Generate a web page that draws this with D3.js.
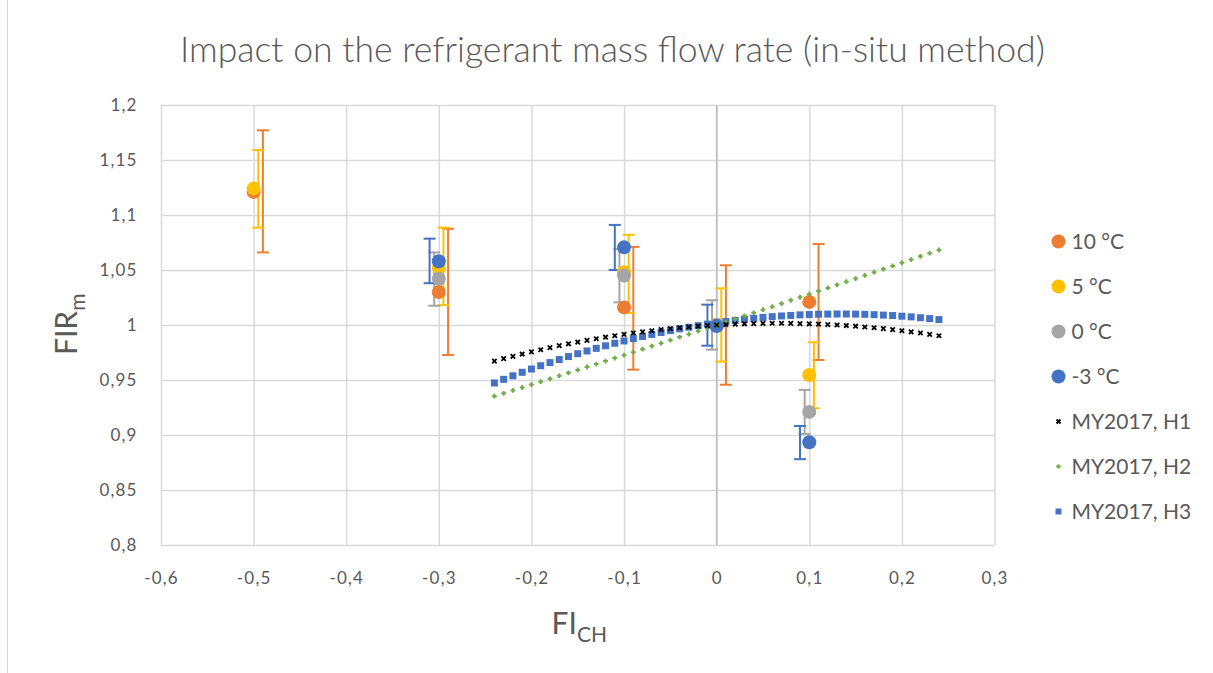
<!DOCTYPE html>
<html><head><meta charset="utf-8">
<script src="https://cdn.jsdelivr.net/npm/d3@7"></script>
<style>
html,body{margin:0;padding:0;background:#fff;}
svg{display:block;font-family:Lato,"Open Sans",sans-serif;}
</style></head>
<body>
<svg id="chart" width="1213" height="673"></svg>
<script>
// ---------- DATA ----------
const titleText = "Impact on the refrigerant mass flow rate (in-situ method)";
const xTicks = [-0.6,-0.5,-0.4,-0.3,-0.2,-0.1,0,0.1,0.2,0.3];
const yTicks = [0.8,0.85,0.9,0.95,1,1.05,1.1,1.15,1.2];
const xCat = [-0.5,-0.3,-0.1,0,0.1];

const seriesNames = ["10 °C","5 °C","0 °C","-3 °C"];
const t10  = [1.121, 1.030, 1.016, 1.000, 1.021];
const t5   = [1.124, 1.052, 1.048, 1.000, 0.9545];
const t0   = [null,  1.042, 1.045, 1.000, 0.921];
const tm3  = [null,  1.058, 1.0706, 0.999, 0.8934];

const t10Lo = [1.066, 0.9727, 0.9594, 0.9457, 0.9682];
const t10Hi = [1.177, 1.0875, 1.071, 1.0543, 1.0736];
const t5Lo  = [1.0885, 1.018, 1.011, 0.9667, 0.9243];
const t5Hi  = [1.159, 1.0885, 1.082, 1.0333, 0.9843];
const t0Lo  = [null, 1.0175, 1.0206, 0.9776, 0.901];
const t0Hi  = [null, 1.066, 1.069, 1.0225, 0.941];
const tm3Lo = [null, 1.038, 1.050, 0.9812, 0.878];
const tm3Hi = [null, 1.0785, 1.091, 1.0185, 0.9082];
// x of each series' error bar relative to its category
const errShift = [0.01, 0.005, -0.005, -0.01];

const curveX = [-0.24,-0.23,-0.22,-0.21,-0.2,-0.19,-0.18,-0.17,-0.16,-0.15,-0.14,-0.13,-0.12,-0.11,-0.1,-0.09,-0.08,-0.07,-0.06,-0.05,-0.04,-0.03,-0.02,-0.01,0,
  0.01,0.02,0.03,0.04,0.05,0.06,0.07,0.08,0.09,0.1,0.11,0.12,0.13,0.14,0.15,0.16,0.17,0.18,0.19,0.2,0.21,0.22,0.23,0.24];
const h1 = [0.9672,0.9694,0.9715,0.9736,0.9756,0.9775,0.9794,0.9812,0.9829,0.9845,0.9860,0.9875,0.9889,0.9902,0.9915,0.9927,0.9938,0.9948,0.9958,0.9967,0.9975,0.9982,0.9989,0.9995,1.0000,
  1.0004,1.0008,1.0011,1.0013,1.0015,1.0016,1.0016,1.0015,1.0013,1.0011,1.0008,1.0004,1.0000,0.9995,0.9989,0.9982,0.9975,0.9967,0.9958,0.9948,0.9938,0.9927,0.9915,0.9902];
const h2 = [0.9353,0.9379,0.9405,0.9432,0.9458,0.9485,0.9511,0.9538,0.9565,0.9591,0.9618,0.9645,0.9672,0.9699,0.9726,0.9753,0.9780,0.9808,0.9835,0.9862,0.9890,0.9917,0.9945,0.9972,1.0000,
  1.0028,1.0056,1.0083,1.0111,1.0139,1.0167,1.0195,1.0224,1.0252,1.0280,1.0308,1.0337,1.0365,1.0394,1.0422,1.0451,1.0480,1.0508,1.0537,1.0566,1.0595,1.0624,1.0653,1.0682];
const h3 = [0.9473,0.9506,0.9538,0.9570,0.9600,0.9630,0.9658,0.9686,0.9713,0.9739,0.9764,0.9788,0.9811,0.9834,0.9855,0.9876,0.9895,0.9914,0.9932,0.9949,0.9965,0.9980,0.9994,1.0008,1.0020,
  1.0032,1.0042,1.0052,1.0061,1.0069,1.0076,1.0082,1.0087,1.0092,1.0095,1.0098,1.0099,1.0100,1.0100,1.0099,1.0097,1.0094,1.0090,1.0086,1.0080,1.0074,1.0066,1.0058,1.0049];
const curveNames = ["MY2017, H1","MY2017, H2","MY2017, H3"];

// ---------- STYLE ----------
const colors = ["#ED7D31","#FFC000","#A5A5A5","#4472C4"];
const curveColors = ["#000000","#70AD47","#4472C4"];
const textCol = "#595959";

const svg = d3.select("#chart");
const x = d3.scaleLinear().domain([-0.6,0.3]).range([161,994.5]);
const y = d3.scaleLinear().domain([0.8,1.2]).range([545,105]);
const fmt = v => String(+v.toFixed(2)).replace(".", ",");

// outer border (left edge visible)
svg.append("line").attr("x1",7.5).attr("x2",7.5).attr("y1",0).attr("y2",673)
  .attr("stroke","#D9D9D9").attr("stroke-width",1.2);

// gridlines via axes
const gx = svg.append("g").attr("transform","translate(0,545)")
  .call(d3.axisBottom(x).tickValues(xTicks).tickSize(-440).tickFormat(""));
gx.select(".domain").remove();
gx.selectAll("line").attr("stroke","#D9D9D9").attr("stroke-width",1.5);
const gy = svg.append("g").attr("transform","translate(161,0)")
  .call(d3.axisLeft(y).tickValues(yTicks).tickSize(-833.5).tickFormat(""));
gy.select(".domain").remove();
gy.selectAll("line").attr("stroke","#D9D9D9").attr("stroke-width",1.5);

// vertical value axis line at x = 0
svg.append("line").attr("x1",x(0)).attr("x2",x(0)).attr("y1",y(1.2)).attr("y2",y(0.8))
  .attr("stroke","#BFBFBF").attr("stroke-width",1.5);

// tick labels
svg.append("g").selectAll("text").data(xTicks).join("text")
  .attr("x",d=>x(d)+0.6).attr("y",584).attr("text-anchor","middle")
  .attr("font-size",17).attr("letter-spacing","1.2px").attr("fill",textCol).text(fmt);
svg.append("g").selectAll("text").data(yTicks).join("text")
  .attr("x",137.7).attr("y",d=>y(d)).attr("dy","0.36em").attr("text-anchor","end")
  .attr("font-size",17).attr("letter-spacing","1.2px").attr("fill",textCol).text(fmt);

// title, fitted to its width in the reference
const title = svg.append("text").attr("x",612.5).attr("y",62).attr("text-anchor","middle")
  .attr("font-size",32).attr("font-weight",300).attr("fill",textCol).text(titleText);
const tw = title.node().getComputedTextLength();
title.attr("font-size", 32*865/tw);

// axis titles
const xt = svg.append("text").attr("x",551.5).attr("y",634).attr("font-size",30).attr("fill",textCol);
xt.append("tspan").text("FI");
xt.append("tspan").attr("dy",8).attr("font-size",21).text("CH");
const yt = svg.append("text").attr("transform","translate(76.5,355) rotate(-90)").attr("font-size",30).attr("fill",textCol);
yt.append("tspan").text("FIR");
yt.append("tspan").attr("dy",8).attr("font-size",21).text("m");

// scatter series
const vals = [t10,t5,t0,tm3], los = [t10Lo,t5Lo,t0Lo,tm3Lo], his = [t10Hi,t5Hi,t0Hi,tm3Hi];
const errG = svg.append("g");
vals.forEach((s,i)=>{
  const d = xCat.map((c,j)=>({c, lo:los[i][j], hi:his[i][j]})).filter(e=>e.lo!=null);
  const g = errG.append("g").attr("stroke",colors[i]).attr("stroke-width",2);
  d.forEach(e=>{
    const xx = x(e.c+errShift[i]);
    g.append("line").attr("x1",xx).attr("x2",xx).attr("y1",y(e.lo)).attr("y2",y(e.hi));
    g.append("line").attr("x1",xx-6).attr("x2",xx+6).attr("y1",y(e.lo)).attr("y2",y(e.lo));
    g.append("line").attr("x1",xx-6).attr("x2",xx+6).attr("y1",y(e.hi)).attr("y2",y(e.hi));
  });
});
vals.forEach((s,i)=>{
  const d = xCat.map((c,j)=>({c, v:s[j]})).filter(e=>e.v!=null);
  svg.append("g").selectAll("circle").data(d).join("circle")
    .attr("cx",e=>x(e.c)).attr("cy",e=>y(e.v)).attr("r",7).attr("fill",colors[i]);
});

// curves
const sq = d3.symbol().type(d3.symbolSquare).size(49);
const cH3 = curveX.map((c,j)=>({c,v:h3[j]}));
svg.append("g").selectAll("path").data(cH3).join("path")
  .attr("d",sq).attr("transform",e=>`translate(${x(e.c)},${y(e.v)})`).attr("fill",curveColors[2]);
const cH2 = curveX.map((c,j)=>({c,v:h2[j]}));
svg.append("g").attr("stroke",curveColors[1]).attr("stroke-width",2).selectAll("path").data(cH2).join("path")
  .attr("d",e=>{const X=x(e.c),Y=y(e.v),s=2.4;return `M${X-s},${Y}H${X+s}M${X},${Y-s}V${Y+s}`;});
const cH1 = curveX.map((c,j)=>({c,v:h1[j]}));
svg.append("g").attr("stroke",curveColors[0]).attr("stroke-width",1.8).selectAll("path").data(cH1).join("path")
  .attr("d",e=>{const X=x(e.c),Y=y(e.v),s=2.2;return `M${X-s},${Y-s}L${X+s},${Y+s}M${X-s},${Y+s}L${X+s},${Y-s}`;});

// legend
const legY = [241.5,286.5,331.5,376.5,421.5,466.5,511.5];
const leg = svg.append("g");
seriesNames.forEach((n,i)=>{
  leg.append("circle").attr("cx",1058.5).attr("cy",legY[i]).attr("r",7).attr("fill",colors[i]);
  leg.append("text").attr("x",1071.5).attr("y",legY[i]).attr("dy","0.36em").attr("font-size",21).attr("fill",textCol).text(n);
});
curveNames.forEach((n,k)=>{
  const i = k+4, cx=1058.5, cy=legY[i];
  if(k===0) leg.append("path").attr("d",`M${cx-2},${cy-2}L${cx+2},${cy+2}M${cx-2},${cy+2}L${cx+2},${cy-2}`).attr("stroke","#000").attr("stroke-width",1.8);
  if(k===1) leg.append("path").attr("d",`M${cx-2.2},${cy}H${cx+2.2}M${cx},${cy-2.2}V${cy+2.2}`).attr("stroke",curveColors[1]).attr("stroke-width",1.8);
  if(k===2) leg.append("rect").attr("x",cx-3).attr("y",cy-3).attr("width",6).attr("height",6).attr("fill",curveColors[2]);
  leg.append("text").attr("x",1071.5).attr("y",cy).attr("dy","0.36em").attr("font-size",21).attr("fill",textCol).text(n);
});
</script>
</body></html>
